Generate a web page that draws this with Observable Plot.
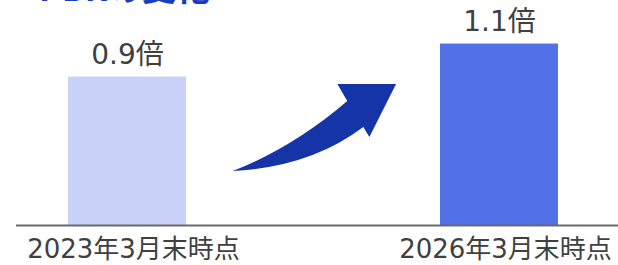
<!DOCTYPE html>
<html><head><meta charset="utf-8">
<script src="https://cdn.jsdelivr.net/npm/d3@7"></script>
<script src="https://cdn.jsdelivr.net/npm/@observablehq/plot@0.6"></script>
<style>
body{margin:0;background:#fff;overflow:hidden;position:relative;width:618px;height:265px;}
#title{position:absolute;left:39px;top:-30px;font:bold 34px/34px "Noto Sans CJK JP",sans-serif;color:#1a3cbf;white-space:nowrap;}
#chart{position:absolute;left:0;top:0;}
</style></head>
<body>
<div id="title">PBRの変化</div>
<div id="chart"></div>
<script>
const categories = ["2023年3月末時点", "2026年3月末時点"];
const values = [0.9, 1.1];
const valueLabels = ["0.9倍", "1.1倍"];
const barColors = ["#C8D2F8", "#5271E9"];

const data = categories.map((c, i) => ({cat: c, value: values[i], label: valueLabels[i], color: barColors[i]}));

// arrow annotation: t = fraction across the gap between bars, v = value on the y scale
const arrowT = [0.184, 0.424, 0.635, 0.596, 0.827, 0.722, 0.698, 0.49];
const arrowV = [0.327, 0.473, 0.752, 0.855, 0.855, 0.533, 0.594, 0.352];

function arrowMark(index, scales, values, dims) {
  const x = scales.x, y = scales.y;
  const x0 = x(categories[0]) + x.bandwidth(), x1 = x(categories[1]);
  const P = arrowT.map((t, i) => [x0 + t * (x1 - x0), y(arrowV[i])]);
  const d = `M${P[0]}Q${P[1]} ${P[2]}L${P[3]}L${P[4]}L${P[5]}L${P[6]}Q${P[7]} ${P[0]}Z`;
  return d3.create("svg:path").attr("d", d).attr("fill", "#1534A8").node();
}

const font = '"DejaVu Sans", "Noto Sans CJK JP", sans-serif';

const chart = Plot.plot({
  width: 618,
  height: 265,
  marginTop: 0,
  marginBottom: 40,
  marginLeft: 16,
  marginRight: 0,
  style: {fontFamily: font, background: "transparent"},
  x: {domain: categories, paddingInner: 0.6836, paddingOuter: 0.149, align: 0.46, label: null},
  y: {domain: [0, 1.364], axis: null},
  marks: [
    Plot.barY(data, {x: "cat", y: "value", fill: "color"}),
    Plot.ruleY([0], {stroke: "#6b6b6b", strokeWidth: 2}),
    Plot.text(data, {x: "cat", y: "value", text: "label", lineAnchor: "bottom", dy: -13, fontSize: 28, fill: "#404040"}),
    arrowMark,
    Plot.axisX({tickSize: 0, tickPadding: 14, fontSize: 26, dx: 6, color: "#404040", label: null})
  ]
});
document.getElementById("chart").appendChild(chart);
</script>
</body></html>
